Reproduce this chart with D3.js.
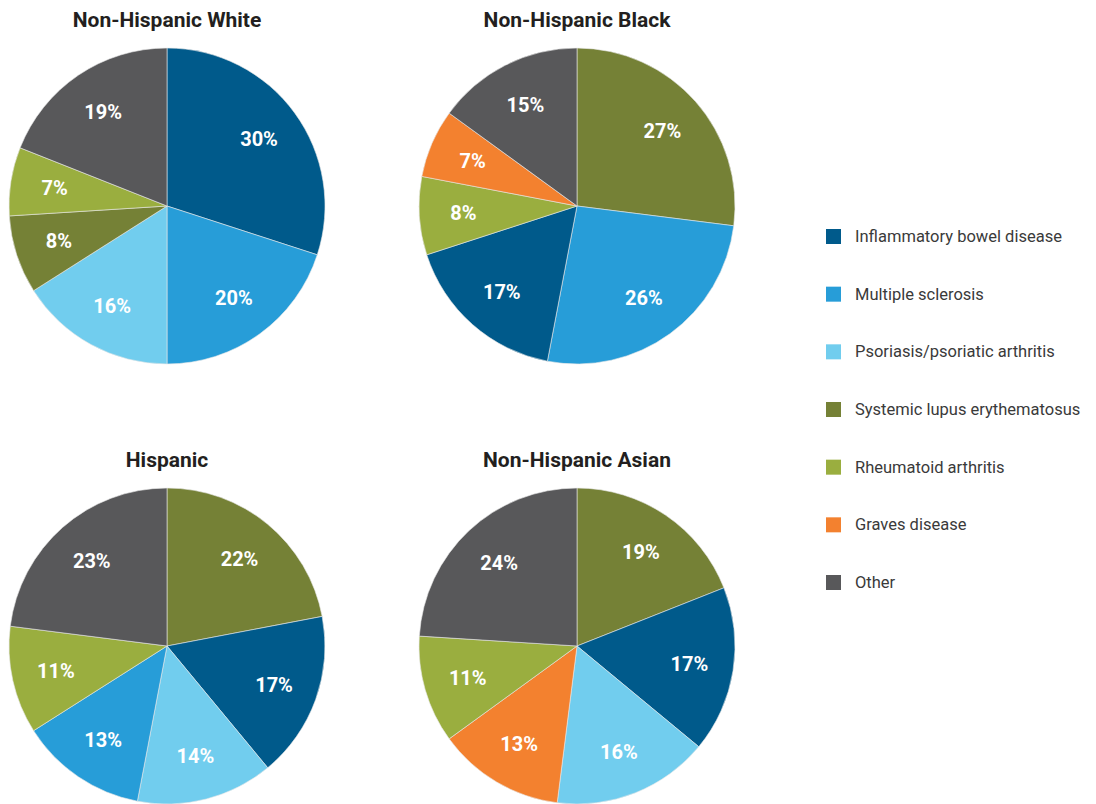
<!DOCTYPE html>
<html>
<head>
<meta charset="utf-8">
<script src="https://cdn.jsdelivr.net/npm/d3@7"></script>
<style>
  body { margin: 0; background: #fff; }
  text { font-family: "Roboto", "DejaVu Sans", sans-serif; }
</style>
</head>
<body>
<div id="chart"></div>
<script>
// categories and colors
let categories = ["Inflammatory bowel disease", "Multiple sclerosis", "Psoriasis/psoriatic arthritis",
                  "Systemic lupus erythematosus", "Rheumatoid arthritis", "Graves disease", "Other"];
let colors = ["#005a8b", "#279dd8", "#71cdee", "#758136", "#9aae3f", "#f3812f", "#58585a"];

let groups = ["Non-Hispanic White", "Non-Hispanic Black", "Hispanic", "Non-Hispanic Asian"];

// slices in clockwise order from 12 o'clock
let whiteCats = ["Inflammatory bowel disease", "Multiple sclerosis", "Psoriasis/psoriatic arthritis", "Systemic lupus erythematosus", "Rheumatoid arthritis", "Other"];
let whiteVals = [30, 20, 16, 8, 7, 19];

let blackCats = ["Systemic lupus erythematosus", "Multiple sclerosis", "Inflammatory bowel disease", "Rheumatoid arthritis", "Graves disease", "Other"];
let blackVals = [27, 26, 17, 8, 7, 15];

let hispCats = ["Systemic lupus erythematosus", "Inflammatory bowel disease", "Psoriasis/psoriatic arthritis", "Multiple sclerosis", "Rheumatoid arthritis", "Other"];
let hispVals = [22, 17, 14, 13, 11, 23];

let asianCats = ["Systemic lupus erythematosus", "Inflammatory bowel disease", "Psoriasis/psoriatic arthritis", "Graves disease", "Rheumatoid arthritis", "Other"];
let asianVals = [19, 17, 16, 13, 11, 24];

let width = 1096, height = 804;
let radius = 158;

let svg = d3.select("#chart").append("svg")
    .attr("width", width)
    .attr("height", height);

let color = d3.scaleOrdinal().domain(categories).range(colors);

let pie = d3.pie().sort(null).value(d => d.value);
let arc = d3.arc().innerRadius(0).outerRadius(radius);
let labelArc = d3.arc().innerRadius(radius * 0.72).outerRadius(radius * 0.72);

let pies = [
    { name: groups[0], cats: whiteCats, vals: whiteVals, cx: 167, cy: 206 },
    { name: groups[1], cats: blackCats, vals: blackVals, cx: 577, cy: 206 },
    { name: groups[2], cats: hispCats,  vals: hispVals,  cx: 167, cy: 646 },
    { name: groups[3], cats: asianCats, vals: asianVals, cx: 577, cy: 646 }
];

pies.forEach(function(p) {
    let data = p.cats.map((c, i) => ({ cat: c, value: p.vals[i] }));
    let g = svg.append("g").attr("transform", `translate(${p.cx}, ${p.cy})`);

    g.append("text")
        .attr("x", 0)
        .attr("y", -radius - 21)
        .attr("text-anchor", "middle")
        .attr("font-size", 21)
        .attr("font-weight", "bold")
        .attr("fill", "#231f20")
        .text(p.name);

    let slices = g.selectAll(".slice").data(pie(data)).enter();

    slices.append("path")
        .attr("d", arc)
        .attr("fill", d => color(d.data.cat))
        .attr("stroke", "#e8e8e8")
        .attr("stroke-width", 0.6);

    slices.append("text")
        .attr("transform", d => `translate(${labelArc.centroid(d)})`)
        .attr("text-anchor", "middle")
        .attr("dy", "0.36em")
        .attr("font-size", 20)
        .attr("font-weight", "bold")
        .attr("fill", "#fff")
        .text(d => d.data.value + "%");
});

// legend
let legendY = d3.scalePoint().domain(categories).range([236, 582]);
let legend = svg.append("g").attr("class", "legend");

let items = legend.selectAll("g").data(categories).enter().append("g")
    .attr("transform", d => `translate(826, ${legendY(d)})`);

items.append("rect")
    .attr("x", 0).attr("y", -7)
    .attr("width", 15).attr("height", 15)
    .attr("fill", d => color(d));

items.append("text")
    .attr("x", 29)
    .attr("dy", "0.36em")
    .attr("font-size", 16.5)
    .attr("fill", "#3a3a3a")
    .text(d => d);
</script>
</body>
</html>
